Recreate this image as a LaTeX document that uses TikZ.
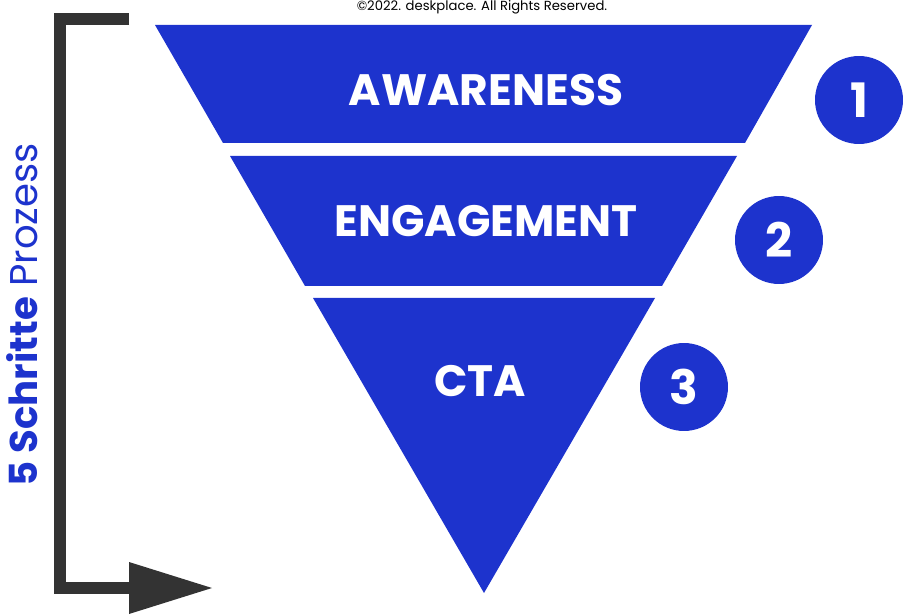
\documentclass[tikz,border=0pt]{standalone}
\usepackage{fontspec}
\setmainfont{Poppins}
\definecolor{funnelblue}{HTML}{1D33CD}
\definecolor{bracketgray}{HTML}{333333}
\tikzset{
  layer/.style={fill=funnelblue},
  layertext/.style={text=white, font=\fontsize{25}{28}\bfseries\selectfont},
  stepnum/.style={circle, fill=funnelblue, minimum size=1.76cm, inner sep=0pt,
    text=white, font=\fontsize{27}{30}\bfseries\selectfont}
}
\begin{document}
\begin{tikzpicture}[x=0.02cm, y=-0.02cm]
    \useasboundingbox (0,0) rectangle (904,615);

    % funnel
    \fill[layer] (155,25) -- (812,25) -- (745,143) -- (223,143) -- cycle;
    \fill[layer] (230,156) -- (737,156) -- (662,286) -- (305,286) -- cycle;
    \fill[layer] (313,298) -- (655,298) -- (484,593) -- cycle;

    \node[layertext] (awareness) at (486,90) {AWARENESS};
    \node[layertext] (engagement) at (486,221) {ENGAGEMENT};
    \node[layertext] (cta) at (480,381) {CTA};

    % steps
    \node[stepnum] (one) at (859,100) {1};
    \node[stepnum] (two) at (779,240) {2};
    \node[stepnum] (three) at (684,387) {3};

    % bracket
    \draw[bracketgray, line width=0.24cm] (129,19) -- (60,19) -- (60,588) -- (140,588);
    \fill[bracketgray] (129,562) -- (212,588) -- (129,614) -- cycle;
    \node[rotate=90, text=funnelblue, font=\fontsize{22}{24}\selectfont] (label) at (22,315)
        {\textbf{5 Schritte} Prozess};

    \node[font=\fontsize{7.5}{9}\selectfont] (copy) at (482,7) {©2022. deskplace. All Rights Reserved.};
\end{tikzpicture}
\end{document}
